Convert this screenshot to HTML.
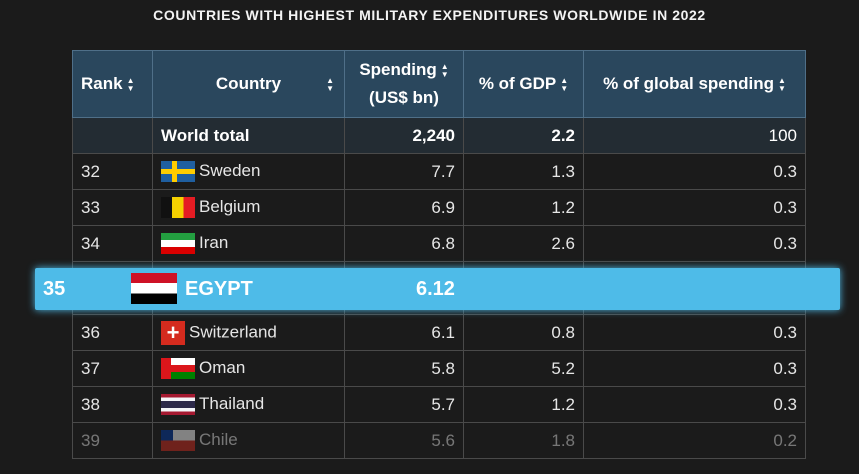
<!DOCTYPE html>
<html><head><meta charset="utf-8"><style>
body{margin:0;width:859px;height:474px;overflow:hidden;background:#1b1b1b;font-family:"Liberation Sans",sans-serif;position:relative}
.t{position:absolute;left:0;top:7px;width:859px;text-align:center;color:#f4f4f4;font-size:14px;font-weight:bold;letter-spacing:0.6px;font-family:"Liberation Sans",sans-serif}
table{position:absolute;left:72px;top:50px;border-collapse:collapse;color:#e6e6e6;font-size:17px;table-layout:fixed}
td{border:1px solid #4a4a4a;height:36px;padding:0 8px;box-sizing:border-box;white-space:nowrap}
tr.h td{background:#2a475d;font-weight:bold;color:#fff;height:67px;border-color:#4f6f88;line-height:28px}
tr.w td{background:#232c33;font-weight:bold;color:#fff}
.r{text-align:right}
.f{display:inline-block;width:34px;height:21px;vertical-align:middle;margin-right:4px}
.ar{display:inline-block;font-size:8px;line-height:8px;vertical-align:middle;text-align:center;margin-left:4px}
.band{position:absolute;left:35px;top:268px;width:805px;height:42px;background:#4ebbe8;box-shadow:0 0 8px #4ebbe8;border-radius:2px;color:#fff;font-weight:bold;font-size:20px}
.band span{position:absolute;top:10px}
</style></head><body>
<div class="t">COUNTRIES WITH HIGHEST MILITARY EXPENDITURES WORLDWIDE IN 2022</div>
<table>
<colgroup><col style="width:80px"><col style="width:192px"><col style="width:119px"><col style="width:120px"><col style="width:222px"></colgroup>
<tr class="h"><td>Rank<span class="ar">▲<br>▼</span></td><td style="text-align:center;position:relative">Country<span class="ar" style="position:absolute;right:10px;top:26px">▲<br>▼</span></td><td style="text-align:center">Spending<span class="ar">▲<br>▼</span><br>(US$ bn)</td><td style="text-align:center">% of GDP<span class="ar">▲<br>▼</span></td><td style="text-align:center">% of global spending<span class="ar">▲<br>▼</span></td></tr>
<tr class="w"><td></td><td>World total</td><td class="r">2,240</td><td class="r">2.2</td><td class="r" style="font-weight:normal">100</td></tr>
<tr><td>32</td><td><span class="f" style="background:linear-gradient(#fecc00,#fecc00) 11px 0/5px 100% no-repeat,linear-gradient(#fecc00,#fecc00) 0 8px/100% 5px no-repeat,#1f5fa0"></span>Sweden</td><td class="r">7.7</td><td class="r">1.3</td><td class="r">0.3</td></tr>
<tr><td>33</td><td><span class="f" style="background:linear-gradient(90deg,#111 33%,#f5d000 33% 66%,#e51c23 66%)"></span>Belgium</td><td class="r">6.9</td><td class="r">1.2</td><td class="r">0.3</td></tr>
<tr><td>34</td><td><span class="f" style="background:linear-gradient(#239f40 33%,#fff 33% 66%,#da0000 66%)"></span>Iran</td><td class="r">6.8</td><td class="r">2.6</td><td class="r">0.3</td></tr>
<tr><td style="height:53px"></td><td></td><td></td><td></td><td></td></tr>
<tr><td>36</td><td><span class="f" style="width:24px;height:24px;background:#d52b1e;color:#fff;text-align:center;font-weight:bold;line-height:24px;font-size:22px">+</span>Switzerland</td><td class="r">6.1</td><td class="r">0.8</td><td class="r">0.3</td></tr>
<tr><td>37</td><td><span class="f" style="background:linear-gradient(90deg,#db161b 30%,transparent 30%),linear-gradient(#fff 33%,#db161b 33% 66%,#008000 66%)"></span>Oman</td><td class="r">5.8</td><td class="r">5.2</td><td class="r">0.3</td></tr>
<tr><td>38</td><td><span class="f" style="background:linear-gradient(#a51931 16%,#f4f5f8 16% 33%,#2d2a4a 33% 66%,#f4f5f8 66% 83%,#a51931 83%)"></span>Thailand</td><td class="r">5.7</td><td class="r">1.2</td><td class="r">0.3</td></tr>
<tr style="opacity:.45"><td>39</td><td><span class="f" style="background:linear-gradient(90deg,#0039a6 35%,transparent 35%) 0 0/100% 50% no-repeat,linear-gradient(#fff 50%,#d52b1e 50%)"></span>Chile</td><td class="r">5.6</td><td class="r">1.8</td><td class="r">0.2</td></tr>
</table>
<div class="band"><span style="left:8px">35</span><span style="left:96px;top:5px;width:46px;height:31px;background:linear-gradient(#ce1126 33%,#fff 33% 66%,#000 66%)"></span><span style="left:150px">EGYPT</span><span style="left:381px">6.12</span></div>
</body></html>
